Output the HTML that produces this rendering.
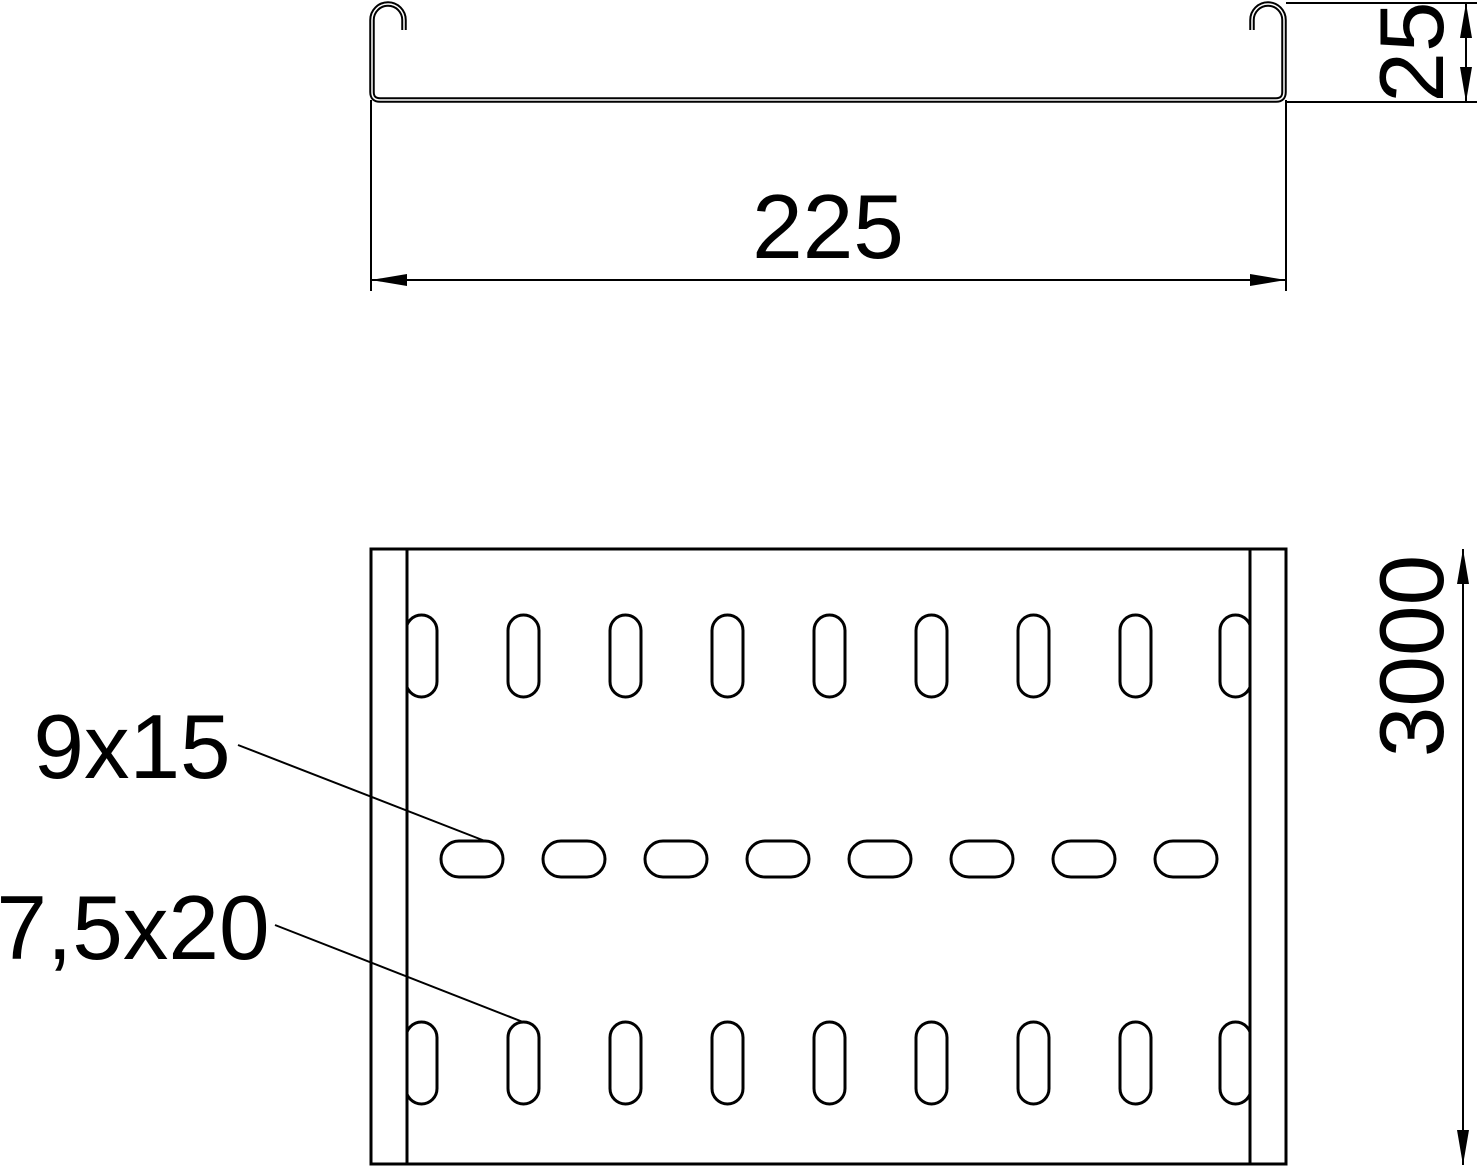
<!DOCTYPE html>
<html><head><style>html,body{margin:0;padding:0;background:#fff}svg{display:block}</style></head><body>
<svg width="1477" height="1166" viewBox="0 0 1477 1166" xmlns="http://www.w3.org/2000/svg" font-family="Liberation Sans, sans-serif">
<defs>
<clipPath id="c"><rect x="407" y="549" width="843" height="617"/></clipPath>
</defs>
<g fill="none" stroke="#000">
<path d="M404,30 L404,20 A16,16 0 0 0 372,20 L372,92 Q372,100 380,100 L1276,100 Q1284,100 1284,92 L1284,20 A16,16 0 0 0 1252,20 L1252,30" stroke-width="5.5"/>
<path d="M404,30 L404,20 A16,16 0 0 0 372,20 L372,92 Q372,100 380,100 L1276,100 Q1284,100 1284,92 L1284,20 A16,16 0 0 0 1252,20 L1252,30" stroke="#fff" stroke-width="1.5"/>
<line x1="371" y1="100" x2="371" y2="291" stroke-width="2"/>
<line x1="1286" y1="100" x2="1286" y2="291" stroke-width="2"/>
<line x1="371" y1="280" x2="1286" y2="280" stroke-width="2"/>
<line x1="1286" y1="3" x2="1477" y2="3" stroke-width="2"/>
<line x1="1286" y1="102" x2="1477" y2="102" stroke-width="2"/>
<line x1="1466" y1="3" x2="1466" y2="102" stroke-width="2"/>
<line x1="1463" y1="549" x2="1463" y2="1165" stroke-width="2"/>
<rect x="371" y="549" width="915" height="615" stroke-width="3"/>
<line x1="407" y1="549" x2="407" y2="1164" stroke-width="3"/>
<line x1="1250" y1="549" x2="1250" y2="1164" stroke-width="3"/>
<g stroke-width="3" clip-path="url(#c)">
<rect x="406" y="615" width="31" height="82" rx="15.5"/>
<rect x="508" y="615" width="31" height="82" rx="15.5"/>
<rect x="610" y="615" width="31" height="82" rx="15.5"/>
<rect x="712" y="615" width="31" height="82" rx="15.5"/>
<rect x="814" y="615" width="31" height="82" rx="15.5"/>
<rect x="916" y="615" width="31" height="82" rx="15.5"/>
<rect x="1018" y="615" width="31" height="82" rx="15.5"/>
<rect x="1120" y="615" width="31" height="82" rx="15.5"/>
<rect x="1220" y="615" width="31" height="82" rx="15.5"/>
<rect x="406" y="1022" width="31" height="82" rx="15.5"/>
<rect x="508" y="1022" width="31" height="82" rx="15.5"/>
<rect x="610" y="1022" width="31" height="82" rx="15.5"/>
<rect x="712" y="1022" width="31" height="82" rx="15.5"/>
<rect x="814" y="1022" width="31" height="82" rx="15.5"/>
<rect x="916" y="1022" width="31" height="82" rx="15.5"/>
<rect x="1018" y="1022" width="31" height="82" rx="15.5"/>
<rect x="1120" y="1022" width="31" height="82" rx="15.5"/>
<rect x="1220" y="1022" width="31" height="82" rx="15.5"/>
<rect x="441" y="841" width="62" height="36" rx="18"/>
<rect x="543" y="841" width="62" height="36" rx="18"/>
<rect x="645" y="841" width="62" height="36" rx="18"/>
<rect x="747" y="841" width="62" height="36" rx="18"/>
<rect x="849" y="841" width="62" height="36" rx="18"/>
<rect x="951" y="841" width="62" height="36" rx="18"/>
<rect x="1053" y="841" width="62" height="36" rx="18"/>
<rect x="1155" y="841" width="62" height="36" rx="18"/>
</g>
<line x1="238" y1="745" x2="485" y2="841" stroke-width="2"/>
<line x1="275" y1="925" x2="523" y2="1022" stroke-width="2"/>
</g>
<g fill="#000">
<polygon points="371,280 407,274 407,286"/>
<polygon points="1286,280 1250,274 1250,286"/>
<polygon points="1466,3 1460,38 1472,38"/>
<polygon points="1466,102 1460,67 1472,67"/>
<polygon points="1463,549 1457,584 1469,584"/>
<polygon points="1463,1165 1457,1130 1469,1130"/>
</g>
<g fill="#000" font-size="91">
<text x="828" y="258" text-anchor="middle">225</text>
<text x="132" y="778" text-anchor="middle">9x15</text>
<text x="133" y="959" text-anchor="middle">7,5x20</text>
<text transform="translate(1443,52) rotate(-90)" text-anchor="middle">25</text>
<text transform="translate(1443,656) rotate(-90)" text-anchor="middle">3000</text>
</g>
</svg>
</body></html>
